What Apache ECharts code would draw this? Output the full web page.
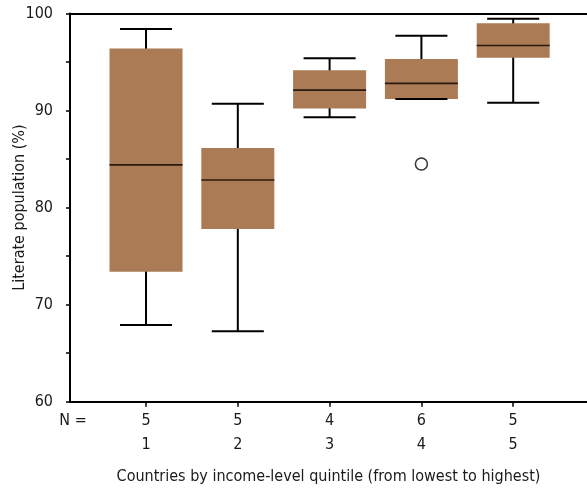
<!DOCTYPE html>
<html>
<head>
<meta charset="utf-8">
<script src="https://cdn.jsdelivr.net/npm/echarts@6/dist/echarts.min.js"></script>
<style>html,body{margin:0;padding:0;background:#fff}#c{width:587px;height:491px}</style>
</head>
<body>
<div id="c"></div>
<script>
const categories = ['1', '2', '3', '4', '5'];
const counts = [5, 5, 4, 6, 5];
const whiskerLow = [67.9, 67.25, 89.3, 91.2, 90.8];
const q1 = [73.4, 77.8, 90.2, 91.2, 95.45];
const median = [84.4, 82.85, 92.1, 92.8, 96.7];
const q3 = [96.4, 86.15, 94.15, 95.3, 99.0];
const whiskerHigh = [98.4, 90.7, 95.4, 97.7, 99.45];
const outlierCategory = ['4'];
const outlierValue = [84.5];
const yTicks = [60, 70, 80, 90, 100];

const FONT = "'Liberation Sans Narrow', 'DejaVu Sans Condensed', 'Liberation Sans', sans-serif";
const positions = categories.map(function (c, i) { return i + 1; });
const boxData = categories.map(function (c, i) {
  return [positions[i], whiskerLow[i], q1[i], median[i], q3[i], whiskerHigh[i]];
});
const outlierData = outlierCategory.map(function (c, i) {
  return [categories.indexOf(c) + 1, outlierValue[i]];
});
const BOX_W = 0.795, CAP_W = 0.567;

const chart = echarts.init(document.getElementById('c'), null, {renderer: 'canvas'});
chart.setOption({
  animation: false,
  backgroundColor: '#fff',
  grid: {left: 70, right: 0, top: 13.5, bottom: 89.3, containLabel: false, outerBoundsMode: 'none'},
  xAxis: [{
    type: 'value', min: 0.172, max: 5.804, position: 'bottom',
    name: 'Countries by income-level quintile (from lowest to highest)',
    nameLocation: 'middle', nameGap: 67, nameMoveOverlap: false,
    nameTextStyle: {fontFamily: FONT, fontSize: 16, color: '#1a1a1a'},
    splitLine: {show: false},
    axisLine: {show: true, onZero: false, lineStyle: {color: '#000', width: 2}},
    axisTick: {show: true, customValues: positions, length: 5, lineStyle: {color: '#000', width: 1.5}},
    axisLabel: {
      customValues: positions, margin: 7, lineHeight: 24,
      fontFamily: FONT, fontSize: 16, color: '#1a1a1a',
      formatter: function (v) { const i = Math.round(v) - 1; return counts[i] + '\n' + categories[i]; }
    }
  }, {
    type: 'value', min: 0.172, max: 5.804, position: 'top',
    splitLine: {show: false},
    axisLine: {show: true, onZero: false, lineStyle: {color: '#000', width: 2}},
    axisTick: {show: false}, axisLabel: {show: false}
  }],
  yAxis: {
    type: 'value', min: yTicks[0], max: yTicks[yTicks.length - 1], interval: 10,
    name: 'Literate population (%)', nameLocation: 'middle', nameGap: 42, nameMoveOverlap: false,
    nameTextStyle: {fontFamily: FONT, fontSize: 16, color: '#1a1a1a'},
    splitLine: {show: false},
    axisLine: {show: true, lineStyle: {color: '#000', width: 2}},
    axisTick: {show: true, length: 4, lineStyle: {color: '#000', width: 1.5}},
    minorTick: {show: true, splitNumber: 2, length: 4, lineStyle: {color: '#000', width: 1.5}},
    axisLabel: {margin: 17, fontFamily: FONT, fontSize: 16, color: '#1a1a1a'}
  },
  graphic: [{
    type: 'text', x: 73, y: 421,
    style: {text: 'N =', fontFamily: FONT, fontSize: 16, fill: '#1a1a1a', textAlign: 'center', textVerticalAlign: 'middle'}
  }],
  series: [{
    type: 'custom',
    data: boxData,
    encode: {x: 0, y: [1, 2, 3, 4, 5]},
    renderItem: function (params, api) {
      const x = api.value(0);
      const bw = api.size([BOX_W, 0])[0];
      const cw = api.size([CAP_W, 0])[0];
      const pLow = api.coord([x, api.value(1)]);
      const pQ1 = api.coord([x, api.value(2)]);
      const pMed = api.coord([x, api.value(3)]);
      const pQ3 = api.coord([x, api.value(4)]);
      const pHigh = api.coord([x, api.value(5)]);
      const cx = pLow[0];
      const line = function (x1, y1, x2, y2, color, w) {
        return {type: 'line', shape: {x1: x1, y1: y1, x2: x2, y2: y2}, style: {stroke: color, lineWidth: w}};
      };
      return {
        type: 'group',
        children: [
          line(cx, pHigh[1], cx, pLow[1], '#000', 2),
          {type: 'rect', shape: {x: cx - bw / 2, y: pQ3[1], width: bw, height: pQ1[1] - pQ3[1]}, style: {fill: '#AB7B55'}},
          line(cx - cw / 2, pHigh[1], cx + cw / 2, pHigh[1], '#000', 2),
          line(cx - cw / 2, pLow[1], cx + cw / 2, pLow[1], '#000', 2),
          line(cx - bw / 2, pMed[1], cx + bw / 2, pMed[1], '#2a1a10', 1.6)
        ]
      };
    }
  }, {
    type: 'scatter',
    data: outlierData,
    symbol: 'circle', symbolSize: 12,
    itemStyle: {color: '#fff', borderColor: '#000', borderWidth: 1.5}
  }]
});
</script>
</body>
</html>
